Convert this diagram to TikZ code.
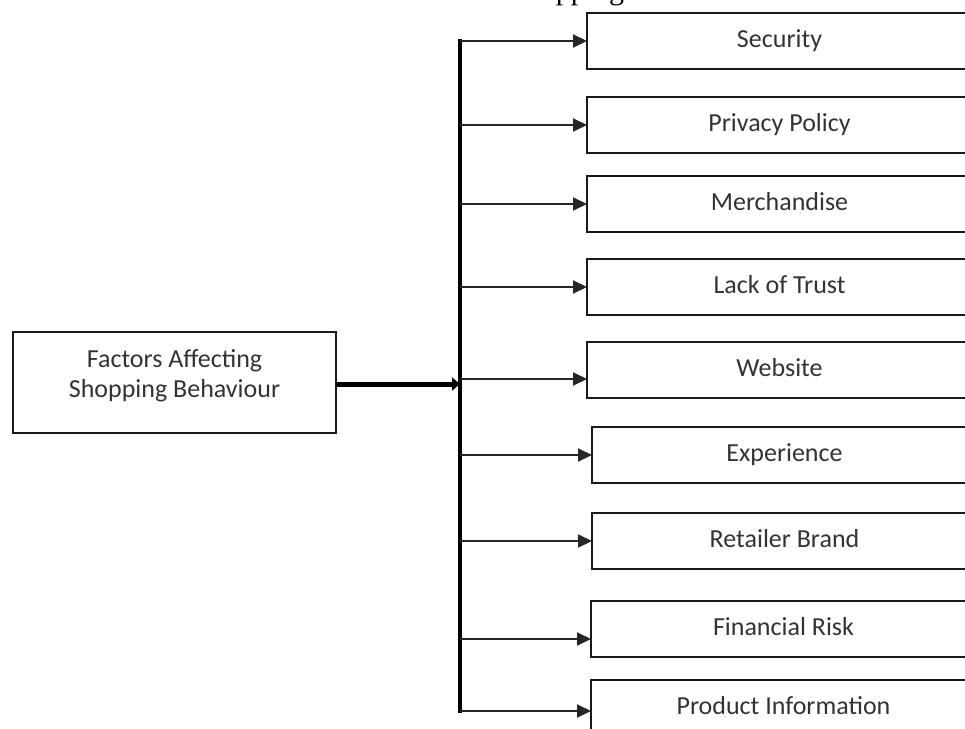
\documentclass[tikz,border=0pt]{standalone}
\usepackage{fontspec}
\setmainfont{Carlito}
\newfontfamily\captionfont{Liberation Serif}
\usetikzlibrary{positioning,arrows.meta}

\begin{document}
\begin{tikzpicture}[x=1pt, y=-1pt, node distance=27pt,
	f/.style={draw=black!90, line width=2.5pt, outer sep=0pt, inner sep=0pt, minimum width=385pt, minimum height=56pt,
		text height=18pt, text depth=6pt, text=black!80, font=\fontsize{26}{30}\selectfont, anchor=north west},
	link/.style={-{Triangle[length=14pt,width=13pt]}, line width=2pt, black!85},
	bus/.style={line width=4pt, line cap=rect}]
		\useasboundingbox (0,0) rectangle (965,728);
		\clip (0,0) rectangle (965,728);

		% caption line above the figure, cut off at the top
		\node [anchor=base west, inner sep=0pt, font=\captionfont\fontsize{30}{36}\selectfont] (cap) at (509,0) {Shopping};

		\node [f, minimum width=323pt, minimum height=101pt, align=center, text height=49pt, text depth=20pt] (main) at (13,332) {Factors Affecting\\Shopping Behaviour};

		\node [f] (sec) at (587,13) {Security};
		\node [f, below=28pt of sec] (priv) {Privacy Policy};
		\node [f, below=23pt of priv] (merch) {Merchandise};
		\node [f, below=27pt of merch] (trust) {Lack of Trust};
		\node [f, below=27pt of trust] (web) {Website};
		\node [f, below=29pt of web, xshift=5pt] (exp) {Experience};
		\node [f, below=30pt of exp] (brand) {Retailer Brand};
		\node [f, below=32pt of brand, xshift=-1pt] (risk) {Financial Risk};
		\node [f, below=23pt of risk] (prod) {Product Information};

		\coordinate (bus) at (460,384);
		\draw [bus] (bus |- sec.west) -- ([yshift=-3pt]bus |- prod.west);
		\path [line width=5pt, -{Triangle[length=8pt,width=13pt]}] (main.east |- bus) edge (bus);

		\path [link] (bus |- sec.west) edge (sec.west);
		\path [link] (bus |- priv.west) edge (priv.west);
		\path [link] (bus |- merch.west) edge (merch.west);
		\path [link] (bus |- trust.west) edge (trust.west);
		\path [link] ([yshift=-9pt]bus |- web.west) edge ([yshift=-9pt]web.west);
		\path [link] (bus |- exp.west) edge (exp.west);
		\path [link] (bus |- brand.west) edge (brand.west);
		\path [link] ([yshift=-10pt]bus |- risk.west) edge ([yshift=-10pt]risk.west);
		\path [link] ([yshift=-3pt]bus |- prod.west) edge ([yshift=-3pt]prod.west);
	\end{tikzpicture}
\end{document}
